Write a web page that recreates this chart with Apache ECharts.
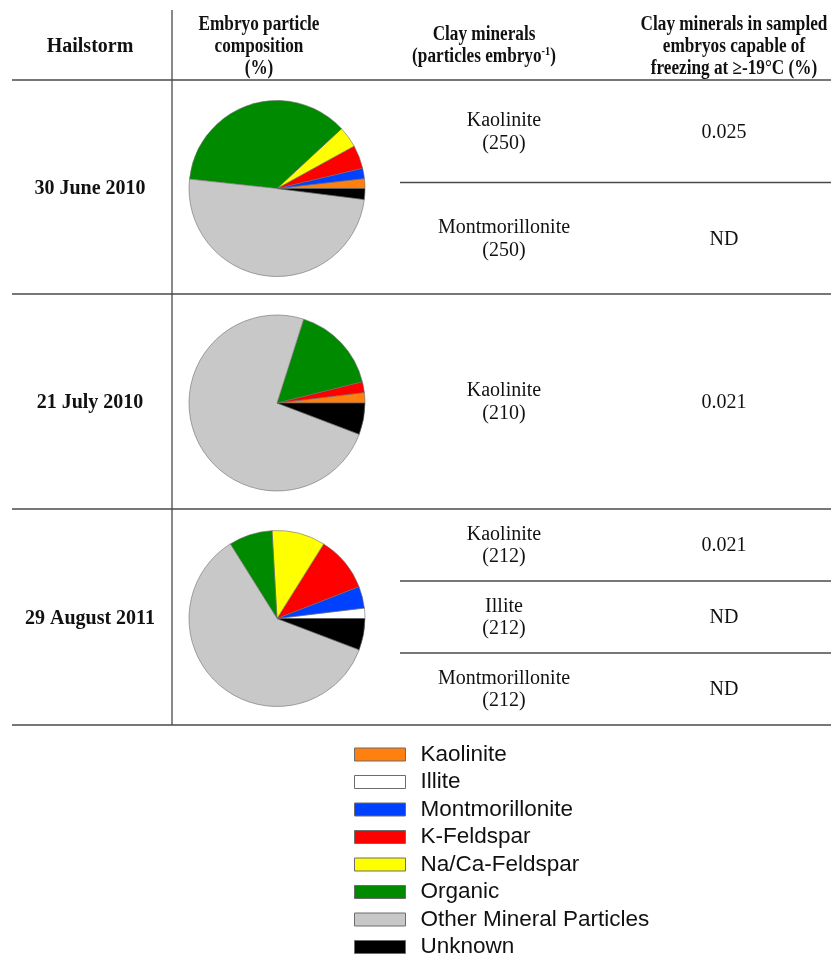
<!DOCTYPE html>
<html>
<head>
<meta charset="utf-8">
<script src="https://cdn.jsdelivr.net/npm/echarts@6/dist/echarts.min.js"></script>
<style>
html,body{margin:0;padding:0;background:#fff;}
#c{width:831px;height:957px;}
</style>
</head>
<body>
<div id="c"></div>
<script>
// ---- Data ----
const components = ['Kaolinite', 'Illite', 'Montmorillonite', 'K-Feldspar', 'Na/Ca-Feldspar', 'Organic', 'Other Mineral Particles', 'Unknown'];
const componentColors = ['#FF7F0F', '#FFFFFF', '#0040FF', '#FF0000', '#FFFF00', '#008A00', '#C8C8C8', '#000000'];
const hailstorms = ['30 June 2010', '21 July 2010', '29 August 2011'];
const june2010 = [1.8, 0, 1.9, 4.3, 3.9, 36.4, 49.7, 2.0];
const july2010 = [1.9, 0, 0, 2.0, 0, 16.2, 74.1, 5.8];
const aug2011 = [0, 1.9, 4.0, 10.2, 9.8, 8.0, 60.3, 5.8];
const clayMinerals = [['Kaolinite', 'Montmorillonite'], ['Kaolinite'], ['Kaolinite', 'Illite', 'Montmorillonite']];
const clayCounts = [[250, 250], [210], [212, 212, 212]];
const freezingPct = [['0.025', 'ND'], ['0.021'], ['0.021', 'ND', 'ND']];
const headers = [
  ['Hailstorm'],
  ['Embryo particle', 'composition', '(%)'],
  ['Clay minerals', '(particles embryo{sup|-1})'],
  ['Clay minerals in sampled', 'embryos capable of', 'freezing at ≥-19°C (%)']
];

// ---- Layout ----
const hdrX = [90, 259, 484, 734];
const hdrScale = [1, 0.86, 0.86, 0.86];
const bodyX = [90, 277, 504, 724];
const headerLineY = 80;
const rowBottoms = [294, 509, 725];
const subLines = [[182.5], [], [581, 653]];
const pieR = 88;
const lineColor = '#4a4a4a';
const serif = '"Liberation Serif", "Times New Roman", serif';

const chart = echarts.init(document.getElementById('c'), null, {renderer: 'canvas'});

const graphics = [];
// lines
graphics.push({type: 'line', shape: {x1: 12, y1: headerLineY, x2: 831, y2: headerLineY}, style: {stroke: lineColor, lineWidth: 1.6}});
graphics.push({type: 'line', shape: {x1: 172, y1: 10, x2: 172, y2: rowBottoms[2]}, style: {stroke: lineColor, lineWidth: 1.3}});
rowBottoms.forEach(y => graphics.push({type: 'line', shape: {x1: 12, y1: y, x2: 831, y2: y}, style: {stroke: lineColor, lineWidth: 1.4}}));
subLines.forEach(arr => arr.forEach(y => graphics.push({type: 'line', shape: {x1: 400, y1: y, x2: 831, y2: y}, style: {stroke: lineColor, lineWidth: 1.3}})));

// headers
const hdrLineH = 22;
headers.forEach((lines, i) => {
  const total = lines.length;
  const cy = (total === 2) ? 46 : 47;
  lines.forEach((t, j) => {
    graphics.push({
      type: 'text', x: hdrX[i], y: cy + (j - (total - 1) / 2) * hdrLineH,
      scaleX: hdrScale[i],
      style: {
        text: t, align: 'center', verticalAlign: 'middle',
        font: 'bold 20px ' + serif, fill: '#111',
        rich: {sup: {fontSize: 12, fontWeight: 'bold', fontFamily: serif, verticalAlign: 'top', padding: [0, 0, 10, 0], fill: '#111'}}
      }
    });
  });
});

// rows
const rowTops = [headerLineY, rowBottoms[0], rowBottoms[1]];
const pieCenters = [];
hailstorms.forEach((h, r) => {
  const top = rowTops[r], bot = rowBottoms[r];
  const mid = (top + bot) / 2 + 1.5;
  pieCenters.push(mid);
  graphics.push({type: 'text', x: bodyX[0], y: mid, style: {text: h, align: 'center', verticalAlign: 'middle', font: 'bold 20px ' + serif, fill: '#111'}});
  const bounds = [top].concat(subLines[r]).concat([bot]);
  clayMinerals[r].forEach((m, k) => {
    const cy = (bounds[k] + bounds[k + 1]) / 2;
    graphics.push({type: 'text', x: bodyX[2], y: cy - 10.5, style: {text: m, align: 'center', verticalAlign: 'middle', font: '20px ' + serif, fill: '#111'}});
    graphics.push({type: 'text', x: bodyX[2], y: cy + 12, style: {text: '(' + clayCounts[r][k] + ')', align: 'center', verticalAlign: 'middle', font: '20px ' + serif, fill: '#111'}});
    graphics.push({type: 'text', x: bodyX[3], y: cy + 1, style: {text: freezingPct[r][k], align: 'center', verticalAlign: 'middle', font: '20px ' + serif, fill: '#111'}});
  });
});

const pieData = [june2010, july2010, aug2011];
const series = pieData.map((vals, i) => ({
  type: 'pie',
  center: [bodyX[1], pieCenters[i]],
  radius: [0, pieR],
  startAngle: 0,
  clockwise: false,
  avoidLabelOverlap: false,
  label: {show: false},
  labelLine: {show: false},
  emphasis: {disabled: true},
  silent: true,
  itemStyle: {borderColor: '#6d6d6d', borderWidth: 0.6},
  data: components.map((n, k) => ({name: n, value: vals[k] > 0 ? vals[k] : '-', itemStyle: {color: componentColors[k]}}))
}));

chart.setOption({
  animation: false,
  color: componentColors,
  legend: {
    data: components,
    orient: 'vertical',
    left: 354,
    top: 743,
    height: 280,
    padding: 0,
    itemWidth: 51,
    itemHeight: 13,
    itemGap: 4.5,
    selectedMode: false,
    icon: 'rect',
    itemStyle: {borderColor: '#6d6d6d', borderWidth: 1},
    textStyle: {fontFamily: '"Liberation Sans", Arial, sans-serif', fontSize: 22.5, color: '#111', padding: [0, 0, 0, 10]}
  },
  series: series,
  graphic: graphics
});
</script>
</body>
</html>
